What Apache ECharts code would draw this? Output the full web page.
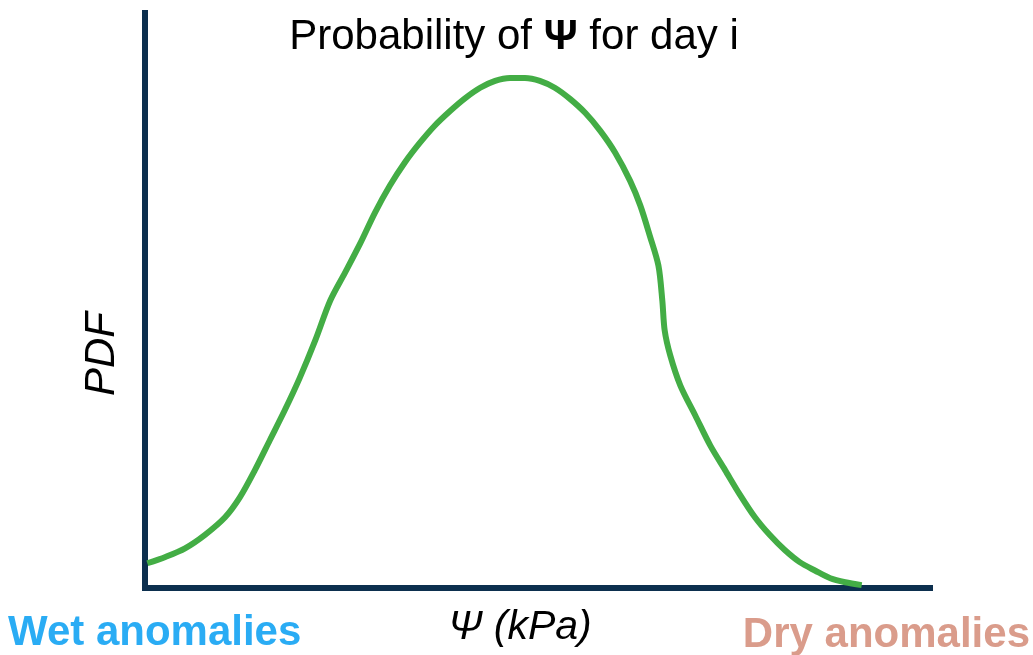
<!DOCTYPE html>
<html>
<head>
<meta charset="utf-8">
<script src="https://cdn.jsdelivr.net/npm/echarts@6/dist/echarts.min.js"></script>
<style>html,body{margin:0;padding:0;background:#fff}#c{width:1033px;height:655px}</style>
</head>
<body>
<div id="c"></div>
<script>
const psiValues = [0.3,2.6,5.1,7.6,10.2,12.1,14.0,15.9,17.8,19.7,21.7,23.6,25.5,27.4,29.3,31.2,33.1,35.0,36.9,38.9,40.8,42.7,44.6,46.5,48.4,50.3,52.2,54.1,56.1,58.0,59.9,61.8,63.1,64.3,65.4,65.9,66.2,66.9,68.2,70.1,72.0,73.9,75.8,77.7,79.6,81.5,83.4,85.4,87.3,89.2,91.3];
const pdfValues = [4.3,5.4,6.9,9.2,12.3,15.8,20.5,25.7,30.9,36.5,43.1,50.0,54.9,59.9,65.3,70.0,74.0,77.4,80.4,83.0,85.2,87.0,88.2,88.7,88.7,88.2,87.0,85.1,82.6,79.5,75.7,70.8,66.5,61.3,56.1,50.0,44.8,40.5,35.2,30.0,24.8,20.5,16.2,12.3,9.2,6.6,4.5,3.0,1.7,1.0,0.5];
const titleText = ['Probability of ', 'Ψ', ' for day i'];
const xName = 'Ψ (kPa)';
const yName = 'PDF';
const leftLabel = 'Wet anomalies';
const rightLabel = 'Dry anomalies';

const chart = echarts.init(document.getElementById('c'));
const axisColor = '#0c2f4e';
const axisCommon = {
  type: 'value', min: 0, max: 100,
  axisLine: {show: true, lineStyle: {color: axisColor, width: 6, cap: 'square'}},
  axisTick: {show: false}, axisLabel: {show: false}, splitLine: {show: false}
};
chart.setOption({
  animation: false,
  title: {
    text: '{n|' + titleText[0] + '}{b|' + titleText[1] + '}{n|' + titleText[2] + '}',
    left: 509, top: 11, textAlign: 'center',
    textStyle: {
      fontWeight: 'normal',
      rich: {
        n: {fontFamily: 'Liberation Sans', fontSize: 42, fontWeight: 'normal', color: '#000'},
        b: {fontFamily: 'Liberation Sans', fontSize: 42, fontWeight: 'bold', color: '#000'}
      }
    }
  },
  grid: {left: 145, right: 103, top: 13, bottom: 67, outerBoundsMode: 'none', containLabel: false},
  xAxis: Object.assign({}, axisCommon),
  yAxis: Object.assign({}, axisCommon),
  graphic: [
    {type: 'text', x: 520, y: 628, style: {text: xName, fontFamily: 'Liberation Sans', fontSize: 41, fontStyle: 'italic', fill: '#000', align: 'center', verticalAlign: 'middle'}},
    {type: 'text', x: 102, y: 354, rotation: Math.PI / 2, style: {text: yName, fontFamily: 'Liberation Sans', fontSize: 42, fontStyle: 'italic', fill: '#000', align: 'center', verticalAlign: 'middle'}},
    {type: 'text', x: 8, y: 633, style: {text: leftLabel, fontFamily: 'Liberation Sans', fontSize: 42, fontWeight: 'bold', fill: '#2aacf4', align: 'left', verticalAlign: 'middle'}},
    {type: 'text', x: 1030, y: 635, style: {text: rightLabel, fontFamily: 'Liberation Sans', fontSize: 42, fontWeight: 'bold', fill: '#da9c8b', align: 'right', verticalAlign: 'middle'}}
  ],
  series: [{
    type: 'line',
    data: psiValues.map((x, i) => [x, pdfValues[i]]),
    smooth: 0.3, showSymbol: false,
    lineStyle: {color: '#43ad45', width: 6},
    z: 1
  }]
});
</script>
</body>
</html>
